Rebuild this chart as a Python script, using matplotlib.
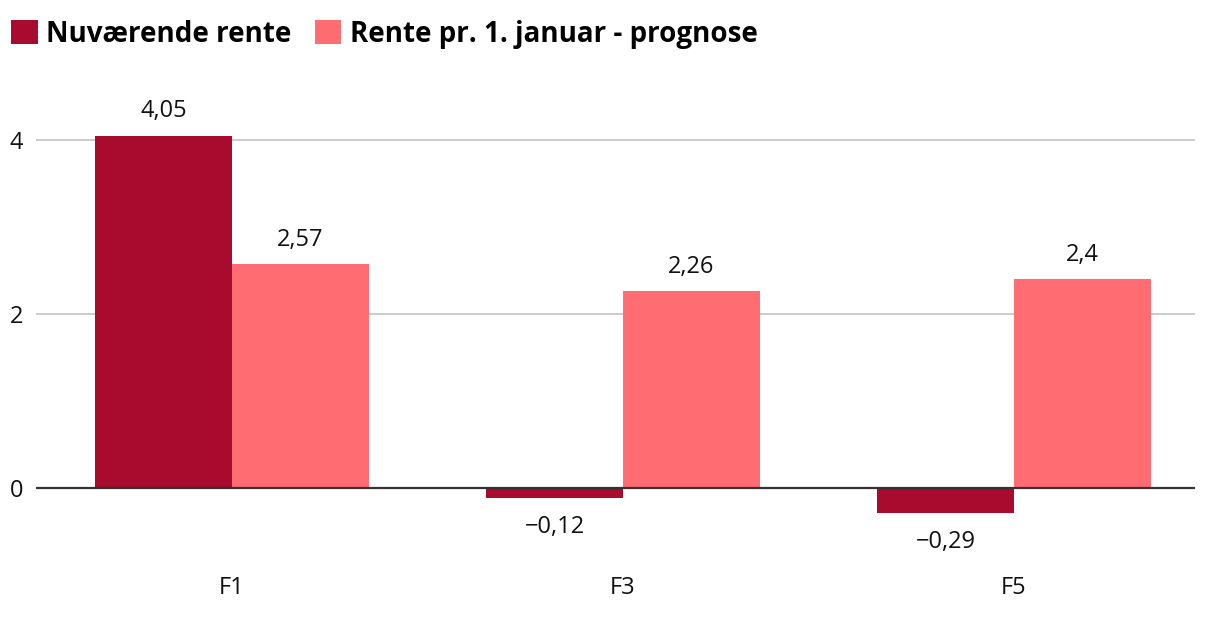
import matplotlib.pyplot as plt
import numpy as np

plt.rcParams['font.family'] = ['Open Sans', 'DejaVu Sans']

categories = ["F1", "F3", "F5"]
series_names = ["Nuværende rente", "Rente pr. 1. januar - prognose"]
current = [4.05, -0.12, -0.29]
forecast = [2.57, 2.26, 2.4]
colors = ["#a80b2e", "#ff6c72"]

W, H = 1220, 620
fig = plt.figure(figsize=(W / 100, H / 100), dpi=100)
# axes placed in pixel terms
left, right, top, bottom = 36, 1195, 90, 562
ax = fig.add_axes([left / W, 1 - bottom / H, (right - left) / W, (bottom - top) / H])

x = np.arange(len(categories))
w = 0.35
b1 = ax.bar(x - w / 2, current, w, color=colors[0], label=series_names[0], zorder=3)
b2 = ax.bar(x + w / 2, forecast, w, color=colors[1], label=series_names[1], zorder=3)

ax.set_xlim((36 - 232) / 391, (1195 - 232) / 391)
ax.set_ylim(-(bottom - 488) / 87, (488 - top) / 87)

ax.set_yticks([0, 2, 4])
ax.set_yticklabels(["0", "2", "4"])
ax.set_xticks(x)
ax.set_xticklabels(categories)
ax.tick_params(axis='both', length=0, labelsize=17, colors="#111111")
ax.tick_params(axis='x', pad=10)
for lab in ax.get_yticklabels():
    lab.set_horizontalalignment('left')
ax.yaxis.set_tick_params(pad=19)

ax.grid(axis='y', color="#c4c4c4", lw=1.2, zorder=0)
ax.axhline(0, color="#333333", lw=1.6, zorder=4)
for s in ax.spines.values():
    s.set_visible(False)


def fmt(v):
    s = ("%g" % abs(v)).replace(".", ",")
    return ("\u2212" + s) if v < 0 else s


for bars, vals in [(b1, current), (b2, forecast)]:
    for r, v in zip(bars, vals):
        cx = r.get_x() + r.get_width() / 2
        if v >= 0:
            ax.annotate(fmt(v), (cx, v), xytext=(0, 9), textcoords='offset points',
                        ha='center', va='bottom', fontsize=17, color="#111111")
        else:
            ax.annotate(fmt(v), (cx, v), xytext=(0, -12), textcoords='offset points',
                        ha='center', va='top', fontsize=17, color="#111111")

fig.legend(handles=[b1, b2], labels=series_names, loc='upper left',
           bbox_to_anchor=(0.0, 0.986), ncol=2, frameon=False,
           handlelength=0.95, handleheight=0.95, handletextpad=0.32, columnspacing=0.83,
           prop={'weight': 'bold', 'size': 20, 'stretch': 'condensed'},
           borderaxespad=0.1, borderpad=0.3)

fig.savefig("out.png", dpi=100)
